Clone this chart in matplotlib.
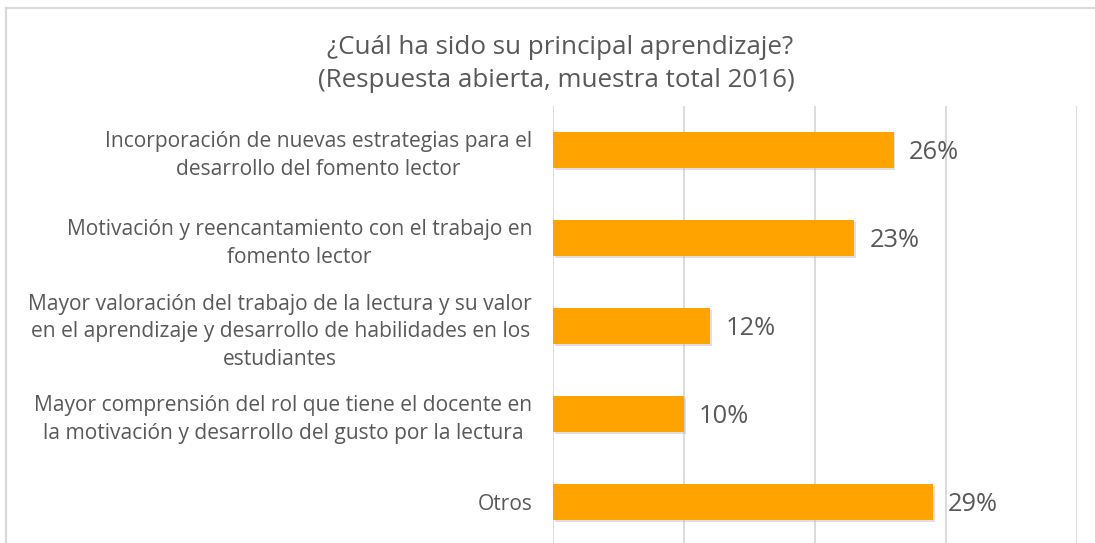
import matplotlib
matplotlib.use("Agg")
import matplotlib.pyplot as plt
import matplotlib.patheffects as pe
from matplotlib.lines import Line2D

categories = [
    "Incorporación de nuevas estrategias para el\ndesarrollo del fomento lector",
    "Motivación y reencantamiento con el trabajo en\nfomento lector",
    "Mayor valoración del trabajo de la lectura y su valor\nen el aprendizaje y desarrollo de habilidades en los\nestudiantes",
    "Mayor comprensión del rol que tiene el docente en\nla motivación y desarrollo del gusto por la lectura",
    "Otros",
]
values = [26, 23, 12, 10, 29]
value_labels = ["26%", "23%", "12%", "10%", "29%"]
xticks = [0, 10, 20, 30, 40]

title1 = "¿Cuál ha sido su principal aprendizaje?"
title2 = "(Respuesta abierta, muestra total 2016)"

W, H = 1095, 543
fig = plt.figure(figsize=(W / 100, H / 100), dpi=100)
plt.rcParams["font.family"] = ["Open Sans", "DejaVu Sans"]
gray = "#595959"

ax = fig.add_axes([553 / W, -3 / H, (1077 - 553) / W, (546 - 106) / H])
ypos = list(range(len(categories)))
bars = ax.barh(ypos, values, height=0.4, color="#FFA300", zorder=3)
for b in bars:
    b.set_path_effects([pe.SimplePatchShadow(offset=(1.2, -1.5), shadow_rgbFace="#bbbbbb", alpha=0.45), pe.Normal()])

ax.set_ylim(len(categories) - 0.5, -0.5)
ax.set_xlim(0, 40)
ax.set_xticks(xticks)
ax.xaxis.grid(True, color="#d9d9d9", linewidth=1.3, zorder=0)
ax.tick_params(axis="x", length=0, labelbottom=False)
ax.tick_params(axis="y", length=0, pad=15)
ax.set_yticks(ypos)
ax.set_yticklabels(categories, fontsize=15.1, color=gray, multialignment="center", linespacing=1.4)
for s in ax.spines.values():
    s.set_visible(False)

for y, v, lab in zip(ypos, values, value_labels):
    ax.text(v + 1.15, y + 0.03, lab, va="center", ha="left", fontsize=18.4, color=gray, zorder=4)

fig.text(560 / W, 1 - 47 / H, title1, ha="center", va="center", fontsize=18.7, color=gray)
fig.text(556 / W, 1 - 80 / H, title2, ha="center", va="center", fontsize=18.7, color=gray)

# outer frame (top and left edges visible)
fig.add_artist(Line2D([5.5 / W, 1.0], [1 - 7.5 / H, 1 - 7.5 / H], color="#d9d9d9", linewidth=1.6, transform=fig.transFigure))
fig.add_artist(Line2D([5.5 / W, 5.5 / W], [0, 1 - 7.5 / H], color="#d9d9d9", linewidth=1.6, transform=fig.transFigure))

fig.savefig("out.png", dpi=100)
